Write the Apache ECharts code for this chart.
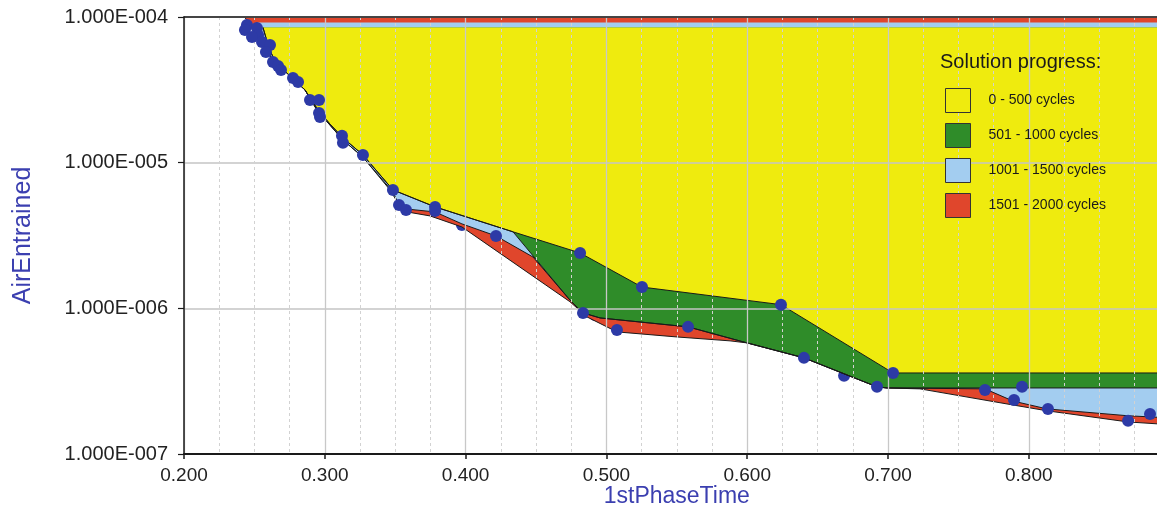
<!DOCTYPE html>
<html>
<head>
<meta charset="utf-8">
<script src="https://cdn.jsdelivr.net/npm/echarts/dist/echarts.min.js"></script>
<style>
html,body{margin:0;padding:0;background:#ffffff;}
#chart{width:1157px;height:507px;}
</style>
</head>
<body>
<div id="chart"></div>
<script>
// ---------- data ----------
const legendNames = ['0 - 500 cycles', '501 - 1000 cycles', '1001 - 1500 cycles', '1501 - 2000 cycles'];
const bandColors = ['#efeb0e', '#2f8c29', '#a3cdf0', '#e0462c'];
const bandTopValues = [8.47e-5, 8.47e-5, 9.17e-5, 'end'];

// shared part of the frontier along the dense cluster of solutions
const clusterEdge = [[0.2526,7.53e-5],[0.2582,5.93e-5],[0.2646,4.91e-5],[0.2753,3.94e-5],[0.2859,3.16e-5],[0.2952,2.23e-5],[0.3037,1.81e-5],[0.3129,1.43e-5],[0.3271,1.09e-5]];

// 0 - 500 cycles frontier (head shared with 501 - 1000)
const frontier0to500Head = [[0.2561,8.47e-5],[0.2597,6.42e-5],[0.2646,4.91e-5],[0.2753,3.94e-5],[0.2859,3.16e-5],[0.2952,2.30e-5],[0.3037,1.84e-5],[0.3129,1.48e-5],[0.3271,1.13e-5],[0.3484,6.50e-6],[0.3783,4.97e-6],[0.4337,3.35e-6]];
const frontier0to500Tail = [[0.4813,2.40e-6],[0.5253,1.40e-6],[0.6240,1.06e-6],[0.7036,3.60e-7],[0.9000,3.60e-7]];

// 501 - 1000 cycles frontier tail
const frontier501to1000Tail = [[0.4741,1.14e-6],[0.4834,9.30e-7],[0.4955,8.59e-7],[0.5580,7.46e-7],[0.5999,5.79e-7],[0.6403,4.57e-7],[0.6922,2.89e-7],[0.6993,2.84e-7],[0.9000,2.84e-7]];

// 1001 - 1500 cycles frontier
const frontier1001to1500Head = [[0.2518,9.17e-5]];
const frontier1001to1500Tail = [[0.3463,6.50e-6],[0.3506,5.55e-6],[0.3577,4.81e-6],[0.3783,4.59e-6],[0.3974,3.80e-6],[0.4216,3.14e-6],[0.4479,2.25e-6],[0.4741,1.14e-6],[0.4834,9.30e-7],[0.4955,8.59e-7],[0.5580,7.46e-7],[0.5999,5.79e-7],[0.6403,4.57e-7],[0.6922,2.89e-7],[0.6993,2.84e-7],[0.7689,2.80e-7],[0.7888,2.31e-7],[0.8129,2.04e-7],[0.8705,1.83e-7],[0.9000,1.77e-7]];

// 1501 - 2000 cycles frontier
const frontier1501to2000Head = [[0.2433,9.92e-5],[0.2469,8.81e-5]];
const frontier1501to2000Tail = [[0.3484,6.29e-6],[0.3527,5.12e-6],[0.3584,4.59e-6],[0.3747,4.31e-6],[0.3974,3.62e-6],[0.4741,1.11e-6],[0.4862,8.73e-7],[0.5075,6.89e-7],[0.5501,6.36e-7],[0.5878,5.98e-7],[0.5999,5.79e-7],[0.6403,4.57e-7],[0.6922,2.89e-7],[0.6993,2.84e-7],[0.7227,2.80e-7],[0.7888,2.17e-7],[0.8129,1.98e-7],[0.8705,1.66e-7],[0.9000,1.59e-7]];

// evaluated designs (dots)
const dotsFront = [[0.2447,8.81e-5],[0.2433,8.14e-5],[0.2518,8.40e-5],[0.2526,7.53e-5],[0.2483,7.29e-5],[0.2554,6.74e-5],[0.2611,6.42e-5],[0.2582,5.75e-5],[0.2632,4.91e-5],[0.2668,4.61e-5],[0.2689,4.33e-5],[0.2774,3.81e-5],[0.2810,3.58e-5],[0.2895,2.69e-5],[0.2959,2.69e-5],[0.2959,2.19e-5],[0.2966,2.06e-5],[0.3122,1.53e-5],[0.3129,1.37e-5],[0.3271,1.13e-5],[0.3484,6.50e-6],[0.3527,5.12e-6],[0.3577,4.73e-6],[0.3783,4.97e-6],[0.3783,4.66e-6],[0.4216,3.14e-6],[0.4813,2.40e-6],[0.4834,9.30e-7],[0.5075,7.11e-7],[0.5253,1.40e-6],[0.5580,7.46e-7],[0.6240,1.06e-6],[0.6403,4.57e-7],[0.6922,2.89e-7],[0.7036,3.60e-7],[0.7689,2.75e-7],[0.7895,2.35e-7],[0.7952,2.89e-7],[0.8136,2.04e-7],[0.8705,1.69e-7],[0.8861,1.88e-7]];
const dotsBehind = [[0.3974,3.74e-6],[0.4919,9.01e-7],[0.6688,3.44e-7]];

// ---------- chart ----------
const FONT = '"Liberation Sans", Arial, Helvetica, sans-serif';
const INK = '#1a1a1a';
const TITLE_BLUE = '#3b3fb0';
const DOT = '#2d3aa6';

function sci(v) {
  const e = Math.round(Math.log10(v));
  const m = v / Math.pow(10, e);
  return m.toFixed(3) + 'E' + (e < 0 ? '-' : '+') + String(Math.abs(e)).padStart(3, '0');
}

const frontiers = [
  frontier0to500Head.concat(frontier0to500Tail),
  frontier0to500Head.concat(frontier501to1000Tail),
  frontier1001to1500Head.concat(clusterEdge, frontier1001to1500Tail),
  frontier1501to2000Head.concat(clusterEdge, frontier1501to2000Tail)
];

function band(i) {
  return {
    type: 'line', name: legendNames[i], data: frontiers[i], z: 2,
    symbol: 'none', showSymbol: false, silent: true, clip: true,
    itemStyle: { color: bandColors[i] },
    lineStyle: { color: INK, width: 1 },
    areaStyle: { color: bandColors[i], opacity: 1, origin: bandTopValues[i] },
    emphasis: { disabled: true }
  };
}

const chart = echarts.init(document.getElementById('chart'), null, { renderer: 'canvas' });
chart.setOption({
  animation: false,
  backgroundColor: '#ffffff',
  textStyle: { fontFamily: FONT },
  title: {
    text: 'Solution progress:', left: 940, top: 52, padding: 0,
    textStyle: { fontSize: 20, fontWeight: 'normal', color: INK, fontFamily: FONT }
  },
  legend: {
    orient: 'vertical', left: 945, top: 88, itemWidth: 25, itemHeight: 24, itemGap: 10,
    icon: 'rect', selectedMode: false, padding: 0,
    textStyle: { fontSize: 14, color: INK, fontFamily: FONT, padding: [0, 0, 0, 13] },
    data: legendNames.map((n, i) => ({ name: n, itemStyle: { color: bandColors[i], borderColor: '#333333', borderWidth: 1 } }))
  },
  grid: { left: 184, top: 17, right: -12.6, bottom: 53, containLabel: false, outerBoundsMode: 'none' },
  xAxis: [{
    type: 'value', min: 0.2, max: 0.9, interval: 0.1, position: 'bottom', z: 3,
    name: '1stPhaseTime', nameLocation: 'middle', nameGap: 31, nameMoveOverlap: false,
    nameTextStyle: { fontSize: 23, color: TITLE_BLUE, fontFamily: FONT, verticalAlign: 'top', lineHeight: 23 },
    axisLine: { show: true, onZero: false, lineStyle: { color: INK, width: 2 } },
    axisTick: { show: true, length: 5, lineStyle: { color: INK, width: 1.5 } },
    axisLabel: { fontSize: 19, color: '#222222', margin: 12, showMaxLabel: false, formatter: v => v.toFixed(3) },
    splitLine: { show: true, lineStyle: { color: '#c8c8c8', width: 1.3 } },
    minorTick: { show: false, splitNumber: 4 },
    minorSplitLine: { show: true, lineStyle: { color: '#d2d2d2', width: 1, type: [3, 3] } }
  }, {
    type: 'value', min: 0.2, max: 0.9, position: 'top', z: 6,
    axisLine: { show: true, onZero: false, lineStyle: { color: INK, width: 1.5 } },
    axisTick: { show: false }, axisLabel: { show: false }, splitLine: { show: false }
  }],
  yAxis: {
    type: 'log', logBase: 10, min: 1e-7, max: 1e-4, z: 3,
    name: 'AirEntrained', nameLocation: 'middle', nameGap: 148, nameRotate: 90, nameMoveOverlap: false,
    nameTextStyle: { fontSize: 25, color: TITLE_BLUE, fontFamily: FONT },
    axisLine: { show: true, lineStyle: { color: INK, width: 1.5 } },
    axisTick: { show: true, length: 6, lineStyle: { color: INK, width: 1.2 } },
    axisLabel: { fontSize: 20, color: '#222222', margin: 16, formatter: sci },
    splitLine: { show: true, lineStyle: { color: '#c4c4c4', width: 1.5 } },
    minorTick: { show: false }, minorSplitLine: { show: false }
  },
  series: [
    { type: 'scatter', name: 'designs (behind)', data: dotsBehind, z: 1, symbolSize: 12, silent: true, itemStyle: { color: DOT, opacity: 1 } },
    band(3), band(2), band(1), band(0),
    { type: 'scatter', name: 'designs', data: dotsFront, z: 5, symbolSize: 12, silent: true, itemStyle: { color: DOT, opacity: 1 } }
  ]
});
</script>
</body>
</html>
